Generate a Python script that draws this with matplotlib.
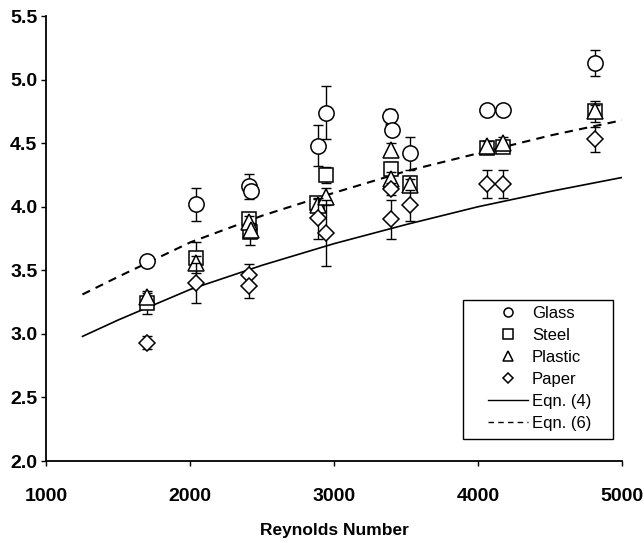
import matplotlib
matplotlib.use("Agg")
import matplotlib.pyplot as plt
from matplotlib.lines import Line2D
from matplotlib.patches import Rectangle

# ---- data ----
glass_re  = [1700, 2040, 2410, 2420, 2885, 2940, 3390, 3400, 3525, 4065, 4170, 4810]
glass_y   = [3.57, 4.02, 4.16, 4.12, 4.48, 4.74, 4.71, 4.60, 4.42, 4.76, 4.76, 5.13]
glass_err = [0.00, 0.13, 0.10, 0.00, 0.16, 0.21, 0.06, 0.00, 0.13, 0.00, 0.03, 0.10]

steel_re  = [1700, 2040, 2410, 2415, 2880, 2940, 3392, 3525, 4065, 4170, 4810]
steel_y   = [3.24, 3.60, 3.90, 3.80, 4.03, 4.25, 4.30, 4.19, 4.46, 4.47, 4.75]
steel_err = [0.08, 0.12, 0.05, 0.10, 0.05, 0.06, 0.05, 0.05, 0.04, 0.04, 0.08]

plastic_re  = [1700, 2040, 2410, 2420, 2885, 2940, 3392, 3392, 3525, 4065, 4170, 4810]
plastic_y   = [3.29, 3.56, 3.88, 3.82, 4.01, 4.08, 4.45, 4.22, 4.17, 4.48, 4.50, 4.75]
plastic_err = [0.05, 0.05, 0.05, 0.05, 0.05, 0.07, 0.05, 0.05, 0.05, 0.04, 0.05, 0.05]

paper_re  = [1700, 2040, 2410, 2410, 2885, 2940, 3392, 3392, 3525, 4065, 4170, 4810]
paper_y   = [2.93, 3.40, 3.46, 3.38, 3.91, 3.79, 4.14, 3.90, 4.01, 4.18, 4.18, 4.53]
paper_err = [0.05, 0.16, 0.09, 0.10, 0.16, 0.26, 0.05, 0.15, 0.12, 0.11, 0.11, 0.10]

eqn_re = [1250, 1500, 2000, 2500, 3000, 3500, 4000, 4500, 5000]
eqn4_y = [2.98, 3.11, 3.35, 3.54, 3.71, 3.86, 4.00, 4.12, 4.23]
eqn6_y = [3.31, 3.45, 3.72, 3.93, 4.11, 4.28, 4.42, 4.56, 4.68]

x_ticks = [1000, 2000, 3000, 4000, 5000]
y_ticks = [2.0, 2.5, 3.0, 3.5, 4.0, 4.5, 5.0, 5.5]

plt.rcParams['font.family'] = ['Liberation Sans', 'DejaVu Sans']

fig = plt.figure(figsize=(6.44, 5.43), dpi=100)
ax = fig.add_axes([0.0722, 0.151, 0.8936, 0.8195])

ax.plot(eqn_re, eqn4_y, color='black', lw=1.2, ls='-', zorder=1)
ax.plot(eqn_re, eqn6_y, color='black', lw=1.5, ls=(0, (4, 3)), zorder=1)

series = [
    (glass_re, glass_y, glass_err, 'o', 11),
    (steel_re, steel_y, steel_err, 's', 10.5),
    (plastic_re, plastic_y, plastic_err, '^', 11),
    (paper_re, paper_y, paper_err, 'D', 8.5),
]
for i, (xs, ys, es, m, ms) in enumerate(series):
    ax.errorbar(xs, ys, yerr=es, fmt='none', ecolor='black', elinewidth=1.0,
                capsize=3.5, capthick=1.0, zorder=2 + i)
    ax.plot(xs, ys, ls='none', marker=m, markersize=ms, markerfacecolor='white',
            markeredgecolor='black', markeredgewidth=1.1, zorder=3 + i)

ax.set_xlim(1000, 5000)
ax.set_ylim(2.0, 5.5)
ax.set_xticks(x_ticks)
ax.set_yticks(y_ticks)
ax.set_yticklabels([f"{v:.1f}" for v in y_ticks])
for lab in ax.get_xticklabels() + ax.get_yticklabels():
    lab.set_fontweight('bold')
    lab.set_fontsize(14)
ax.tick_params(direction='out', length=3.5, width=1.0, colors='black')
ax.tick_params(axis='x', pad=16)
ax.tick_params(axis='y', pad=3)
ax.spines['top'].set_visible(False)
ax.spines['right'].set_visible(False)
for s in ['left', 'bottom']:
    ax.spines[s].set_linewidth(1.3)
ax.set_xlabel('Reynolds Number', fontsize=12.5, fontweight='bold', labelpad=13)

# legend frame drawn separately (reference box is wider than its content)
ax.add_patch(Rectangle((0.7237, 0.0494), 0.9844 - 0.7237, 0.3618 - 0.0494,
                       transform=ax.transAxes, facecolor='white', edgecolor='black',
                       lw=1.0, zorder=20, clip_on=False))

handles = [
    Line2D([], [], ls='none', marker='o', ms=6.5, mfc='white', mec='black', mew=1.1),
    Line2D([], [], ls='none', marker='s', ms=6.5, mfc='white', mec='black', mew=1.1),
    Line2D([], [], ls='none', marker='^', ms=7, mfc='white', mec='black', mew=1.1),
    Line2D([], [], ls='none', marker='D', ms=5.5, mfc='white', mec='black', mew=1.1),
    Line2D([], [], color='black', lw=1.0),
    Line2D([], [], color='black', lw=1.0, ls=(0, (4, 3))),
]
labels = ['Glass', 'Steel', 'Plastic', 'Paper', 'Eqn. (4)', 'Eqn. (6)']
leg = ax.legend(handles, labels, loc='upper left', bbox_to_anchor=(0.767, 0.348),
                borderaxespad=0, borderpad=0, fontsize=12, frameon=False,
                handlelength=2.4, handletextpad=0.25, labelspacing=0.42)
leg.set_zorder(21)

fig.savefig('out.png', dpi=100)
